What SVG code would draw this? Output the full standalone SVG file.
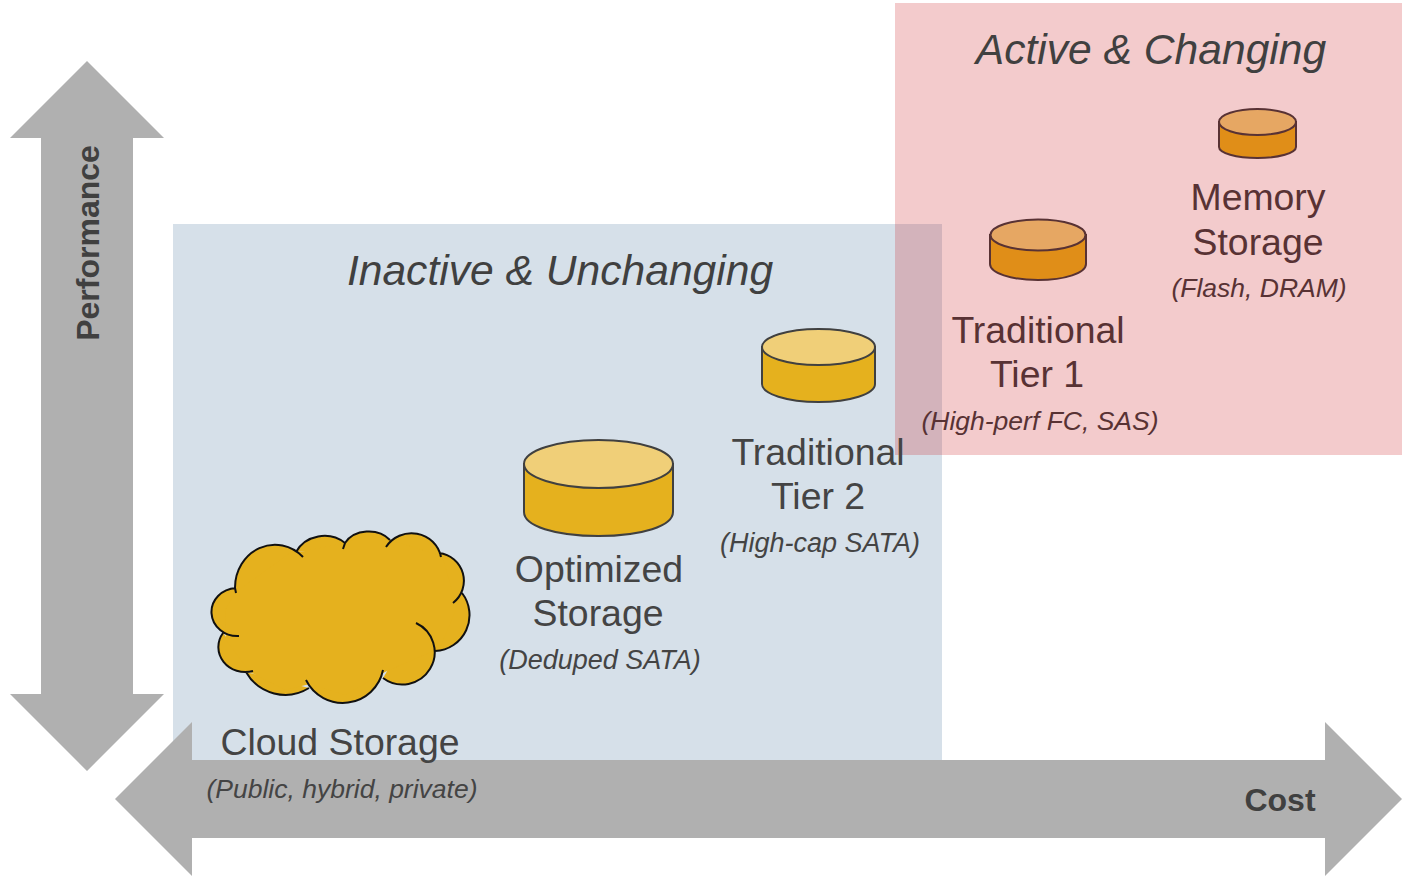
<svg xmlns="http://www.w3.org/2000/svg" width="1412" height="880" viewBox="0 0 1412 880">
<style>
text{font-family:"Liberation Sans",Arial,sans-serif;text-anchor:middle}
.h{font-size:42.6px;font-style:italic;fill:#404040}
.t{font-size:37.4px;fill:#444}
.s{font-size:26.5px;font-style:italic;fill:#444}
.b{font-size:32px;font-weight:bold;fill:#404040}
.r .t,.r .s{fill:#583234}
.arrow{fill:#b0b0b0}
.top{stroke:#404040;stroke-width:2}
.hot{stroke:#583234;stroke-width:2}
.yb{fill:#e5b11e}.yt{fill:#f0cf78}.ob{fill:#e08e18}.ot{fill:#e6a763}
</style>
<defs><path id="lobes" d="M236 593L235 588A40 43 0 0 1 303 557M296 552A32 30 0 0 1 345 543L343 549M345 543A27 22 0 0 1 390 540M386 547A30 29 0 0 1 441 557M439 553A28 28 0 0 1 453 603M462 593A36 36 0 0 1 435 651M416 623A32.250 32.250 0 1 1 383 678M383 670A41 41 0 0 1 306 680M309 688A45 45 0 0 1 246 672M253 671A27 25 0 0 1 223 633M239 636A26 24 0 0 1 236 588"/></defs>
<rect width="1412" height="880" fill="#fff"/>
<g id="zones">
<rect id="inactive" x="173" y="224" width="769" height="560" fill="#d6e0e9"/>
<rect id="active" x="895" y="3" width="507" height="452" fill="#cb1e24" fill-opacity="0.23"/>
</g>
<g id="connectors">
<path class="arrow" d="M87 61L164 138H133V694H164L87 771L10 694H41V138H10Z"/>
<path class="arrow" d="M115 799L192 722V760H1325V722L1402 799L1325 876V838H192V876Z"/>
</g>
<text class="h" x="560" y="285">Inactive &amp; Unchanging</text>
<text class="h" x="1151" y="64">Active &amp; Changing</text>
<text class="b" transform="translate(99 243) rotate(-90)">Performance</text>
<text class="b" x="1280" y="811">Cost</text>
<g id="cloud">
<use href="#lobes" class="yb"/>
<path class="yb" d="M236 592L290 553L300 552L345 543L368 535L390 540L442 556L455 600L462 595L440 648L385 672L345 695L310 684L285 690L250 672L226 640L225 610Z"/>
<use href="#lobes" fill="none" stroke="#111" stroke-width="2"/>
<text class="t" x="340" y="755">Cloud Storage</text><text class="s" x="342" y="798">(Public, hybrid, private)</text>
</g>
<g id="optimized">
<path d="M524 464V512C524 526 555 536 598.500 536S673 526 673 512V464Z" class="yb top"/>
<ellipse cx="598.500" cy="464" rx="74.500" ry="24" class="yt top"/>
<text class="t" x="599" y="582">Optimized</text><text class="t" x="598" y="626">Storage</text><text class="s" x="600" y="669" style="font-size:27px">(Deduped SATA)</text>
</g>
<g id="tier2">
<path d="M762 347V384C762 394 787 402 818.500 402S875 394 875 384V347Z" class="yb top"/>
<ellipse cx="818.500" cy="347" rx="56.500" ry="18" class="yt top"/>
<text class="t" x="818" y="465">Traditional</text><text class="t" x="818" y="509">Tier 2</text><text class="s" x="820" y="552" style="font-size:27px">(High-cap SATA)</text>
</g>
<g id="tier1" class="r">
<path d="M990 235V264C990 273 1011 280 1038 280S1086 273 1086 264V235Z" class="ob hot"/>
<ellipse cx="1038" cy="235" rx="47.500" ry="15.500" class="ot hot"/>
<text class="t" x="1038" y="343">Traditional</text><text class="t" x="1037" y="387">Tier 1</text><text class="s" x="1040" y="430">(High-perf FC, SAS)</text>
</g>
<g id="memory" class="r">
<path d="M1219 122V147C1219 153 1236 158 1257.500 158S1296 153 1296 147V122Z" class="ob hot"/>
<ellipse cx="1257.500" cy="122" rx="38.500" ry="13" class="ot hot"/>
<text class="t" x="1258" y="210">Memory</text><text class="t" x="1258" y="255">Storage</text><text class="s" x="1259" y="297">(Flash, DRAM)</text>
</g>
</svg>
